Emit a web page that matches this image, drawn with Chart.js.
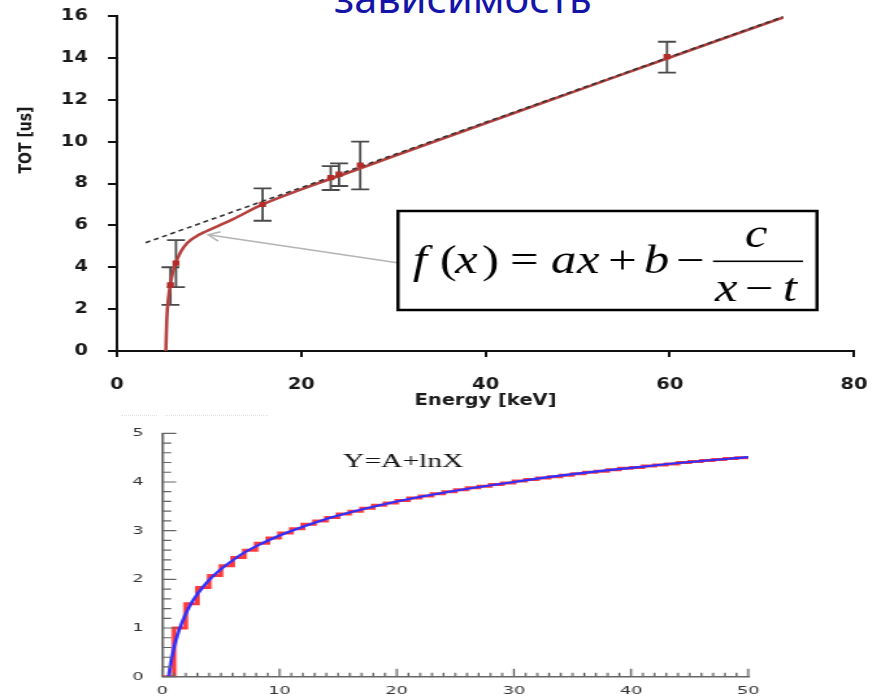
<!DOCTYPE html>
<html><head><meta charset="utf-8">
<script src="https://cdn.jsdelivr.net/npm/chart.js@4.4.1/dist/chart.umd.min.js"></script>
<style>
html,body{margin:0;padding:0;background:#fff;width:881px;height:697px;overflow:hidden;position:relative;}
#title{position:absolute;left:334px;top:-23px;font-family:'Noto Sans';font-size:41.5px;line-height:40px;color:#1414a8;white-space:nowrap;}
.wrap{position:absolute;left:0;transform-origin:0 0;}
.dots{position:absolute;top:415px;height:0;border-top:1px dotted #e2e2e2;}
</style></head><body>
<div id="title">зависимость</div>
<div class="wrap" id="w1"><canvas id="c1"></canvas></div>
<div class="wrap" id="w2"><canvas id="c2"></canvas></div>
<div class="dots" style="left:121px;width:36px"></div>
<div class="dots" style="left:165px;width:103px"></div>
<script>
// ---------- upper chart data ----------
const energy   = [5.8, 6.4, 15.8, 23.2, 24.1, 26.4, 59.7];
const tot      = [3.15, 4.2, 7.0, 8.28, 8.44, 8.88, 14.06];
const errLow   = [2.2, 3.05, 6.22, 7.69, 7.88, 7.72, 13.3];
const errHigh  = [4.0, 5.3, 7.77, 8.83, 8.96, 10.0, 14.77];
const fitX     = [5.3, 5.4, 5.6, 5.8, 6.1, 6.5, 7.0, 7.6, 8.5, 9.7, 11, 12.6, 15.8, 20, 25, 30, 40, 50, 60, 72.3];
const fitY     = [0, 1.5, 2.6, 3.2, 3.85, 4.35, 4.8, 5.15, 5.45, 5.72, 5.98, 6.3, 7.0, 7.72, 8.5, 9.3, 10.88, 12.45, 14.02, 15.93];
const asymX    = [3.1, 72.3];
const asymY    = [5.17, 15.96];
const xTicks1  = [0, 20, 40, 60, 80];
const yTicks1  = [0, 2, 4, 6, 8, 10, 12, 14, 16];
const arrowTip = [9.9, 5.55];

// ---------- lower chart data ----------
const binEdge  = [0,1,2,3,4,5,6,7,8,9,10,11,12,13,14,15,16,17,18,19,20,21,22,23,24,25,26,27,28,29,30,31,32,33,34,35,36,37,38,39,40,41,42,43,44,45,46,47,48,49,50];
const binValue = [0,1.0,1.5,1.83,2.08,2.28,2.45,2.6,2.74,2.85,2.95,3.04,3.13,3.2,3.27,3.34,3.4,3.46,3.52,3.57,3.62,3.67,3.71,3.76,3.8,3.84,3.88,3.91,3.95,3.98,4.02,4.05,4.08,4.11,4.14,4.17,4.2,4.22,4.25,4.28,4.3,4.33,4.35,4.37,4.4,4.42,4.44,4.46,4.48,4.5,4.5];
const curveX   = [0.55,0.6,0.7,0.8,1,1.25,1.5,2,2.5,3,4,5,6,7,8,10,12,15,20,25,30,35,40,45,50];
const curveY   = [0,0.09,0.24,0.38,0.6,0.82,1.0,1.29,1.52,1.7,1.99,2.21,2.39,2.55,2.68,2.9,3.08,3.31,3.6,3.82,4.0,4.16,4.29,4.41,4.51];
const xTicks2  = [0, 10, 20, 30, 40, 50];
const yTicks2  = [0, 1, 2, 3, 4, 5];

Chart.defaults.font.family = 'DejaVu Sans';

const W1 = 678, S1 = 881 / W1, H1 = 410;
const W2 = 551, S2 = 881 / W2, H2 = 287;
const w1 = document.getElementById('w1'), w2 = document.getElementById('w2');
w1.style.cssText = `top:0;width:${W1}px;height:${H1}px;transform:scaleX(${S1});`;
w2.style.cssText = `top:410px;width:${W2}px;height:${H2}px;transform:scaleX(${S2});`;
const c1 = document.getElementById('c1'), c2 = document.getElementById('c2');
c1.width = W1; c1.height = H1; c2.width = W2; c2.height = H2;

const pts = (xs, ys) => xs.map((x, i) => ({x, y: ys[i]}));
const noPad = s => { s.paddingLeft = 0; s.paddingRight = 0; s.paddingTop = 0; s.paddingBottom = 0; };

const errorBars = {
  id: 'errorBars',
  beforeDatasetsDraw(chart) {
    const {ctx, scales: {x, y}} = chart;
    ctx.save();
    ctx.strokeStyle = '#4a4a4a'; ctx.lineWidth = 1.8;
    const hw = 9 / S1;
    energy.forEach((e, i) => {
      const px = x.getPixelForValue(e);
      const yl = y.getPixelForValue(errLow[i]), yh = y.getPixelForValue(errHigh[i]);
      ctx.beginPath();
      ctx.moveTo(px, yl); ctx.lineTo(px, yh);
      ctx.moveTo(px - hw, yl); ctx.lineTo(px + hw, yl);
      ctx.moveTo(px - hw, yh); ctx.lineTo(px + hw, yh);
      ctx.stroke();
    });
    ctx.restore();
  }
};

const upperDeco = {
  id: 'upperDeco',
  afterDraw(chart) {
    const {ctx, scales: {x, y}} = chart;
    // y axis title
    ctx.save();
    ctx.translate(26 / S1, 140);
    ctx.rotate(-Math.PI / 2);
    ctx.font = 'bold 14px "DejaVu Sans"';
    ctx.fillStyle = '#1a1a1a'; ctx.textAlign = 'center'; ctx.textBaseline = 'middle';
    ctx.fillText('TOT [us]', 0, 0);
    ctx.restore();
    // arrow
    const tx = x.getPixelForValue(arrowTip[0]), ty = y.getPixelForValue(arrowTip[1]);
    const sx = 399 / S1, sy = 263;
    ctx.save();
    ctx.strokeStyle = '#b4b4b4'; ctx.lineWidth = 1.5;
    ctx.beginPath(); ctx.moveTo(sx, sy); ctx.lineTo(tx, ty); ctx.stroke();
    const ang = Math.atan2(sy - ty, sx - tx);
    ctx.beginPath();
    ctx.moveTo(tx + 10 * Math.cos(ang + 0.5), ty + 10 * Math.sin(ang + 0.5));
    ctx.lineTo(tx, ty);
    ctx.lineTo(tx + 10 * Math.cos(ang - 0.5), ty + 10 * Math.sin(ang - 0.5));
    ctx.stroke();
    ctx.restore();
    // formula box
    ctx.save();
    ctx.fillStyle = '#fff';
    ctx.fillRect(398 / S1, 211, (817 - 398) / S1, 99);
    ctx.strokeStyle = '#000'; ctx.lineWidth = 2.5;
    ctx.strokeRect(398 / S1, 211, (817 - 398) / S1, 99);
    ctx.fillStyle = '#000'; ctx.textBaseline = 'alphabetic'; ctx.textAlign = 'left';
    const it = 'italic 39px "Liberation Serif"', rm = '39px "Liberation Serif"';
    const parts = [
      ['f', 413, 273, it], ['(', 440, 273, rm], ['x', 455, 273, it], [')', 482, 273, rm],
      ['=', 510, 273, rm], ['a', 551, 273, it], ['x', 577, 273, it], ['+', 608, 273, rm],
      ['b', 644, 273, it], ['\u2212', 676, 273, rm],
      ['c', 745, 247, it], ['x', 715, 301, it], ['\u2212', 745, 301, rm], ['t', 783, 301, it]
    ];
    parts.forEach(([t, px, py, f]) => { ctx.font = f; ctx.fillText(t, px / S1, py); });
    ctx.fillRect(713 / S1, 260.5, (803 - 713) / S1, 1.6);
    ctx.restore();
  }
};

new Chart(c1, {
  type: 'scatter',
  data: {
    datasets: [
      {label: 'data', data: pts(energy, tot), pointStyle: 'rect', pointRadius: 3.8,
       backgroundColor: '#b22c2a', borderColor: '#b22c2a', borderWidth: 0, showLine: false, order: 0},
      {label: 'asymptote', type: 'line', data: pts(asymX, asymY), borderColor: '#333',
       borderDash: [4, 3], borderWidth: 1.6, pointRadius: 0, order: 1},
      {label: 'fit', type: 'line', data: pts(fitX, fitY), borderColor: '#b5413f', borderWidth: 2.6,
       pointRadius: 0, cubicInterpolationMode: 'monotone', order: 2}
    ]
  },
  options: {
    responsive: false, animation: false, devicePixelRatio: 1,
    layout: {padding: {left: 0, top: 16, right: (881 - 854) / S1, bottom: 0}},
    plugins: {legend: {display: false}, tooltip: {enabled: false}},
    scales: {
      x: {
        type: 'linear', min: 0, max: 80,
        afterBuildTicks: s => { s.ticks = xTicks1.map(v => ({value: v})); },
        ticks: {font: {size: 15, weight: 'bold'}, color: '#1a1a1a', padding: 19, maxRotation: 0},
        grid: {drawOnChartArea: false, tickLength: 6, color: '#111', lineWidth: 2},
        border: {color: '#111', width: 2},
        title: {display: true, text: 'Energy [keV]', font: {size: 15, weight: 'bold'}, color: '#1a1a1a', padding: 0},
        afterFit: s => { s.height = 59; noPad(s); }
      },
      y: {
        type: 'linear', min: 0, max: 16,
        afterBuildTicks: s => { s.ticks = yTicks1.map(v => ({value: v})); },
        ticks: {font: {size: 15, weight: 'bold'}, color: '#1a1a1a', padding: 15.3},
        grid: {drawOnChartArea: false, tickLength: 7, color: '#111', lineWidth: 2},
        border: {color: '#111', width: 2},
        afterFit: s => { s.width = 117 / S1; noPad(s); }
      }
    }
  },
  plugins: [errorBars, upperDeco]
});

const lowerDeco = {
  id: 'lowerDeco',
  afterDraw(chart) {
    const {ctx, scales: {x, y}, chartArea: a} = chart;
    ctx.save();
    ctx.strokeStyle = '#666'; ctx.lineWidth = 1.2;
    ctx.beginPath();
    for (let i = 0; i <= 25; i++) {
      const py = y.getPixelForValue(i * 0.2);
      const len = (i % 5 === 0 ? 14 : 9) / S2;
      ctx.moveTo(a.left, py); ctx.lineTo(a.left + len, py);
    }
    for (let i = 0; i <= 50; i++) {
      const px = x.getPixelForValue(i);
      const len = i % 10 === 0 ? 8 : 4;
      ctx.moveTo(px, a.bottom); ctx.lineTo(px, a.bottom - len);
    }
    ctx.stroke();
    ctx.font = '18.5px "Liberation Serif"'; ctx.fillStyle = '#111';
    ctx.textAlign = 'left'; ctx.textBaseline = 'alphabetic';
    ctx.fillText('Y=A+lnX', 343 / S2, 467 - 410);
    ctx.restore();
  }
};

new Chart(c2, {
  type: 'scatter',
  data: {
    datasets: [
      {label: 'fit', type: 'line', data: pts(curveX, curveY), borderColor: '#2f2fff', borderWidth: 2.2,
       pointRadius: 0, cubicInterpolationMode: 'monotone', order: 0},
      {label: 'histogram', type: 'line', data: pts(binEdge, binValue), stepped: 'before',
       borderColor: '#ff3a3a', borderWidth: 3, pointRadius: 0, order: 1}
    ]
  },
  options: {
    responsive: false, animation: false, devicePixelRatio: 1,
    layout: {padding: {left: 0, top: 433.3 - 410, right: (881 - 748.3) / S2, bottom: 0}},
    plugins: {legend: {display: false}, tooltip: {enabled: false}},
    scales: {
      x: {
        type: 'linear', min: 0, max: 50,
        afterBuildTicks: s => { s.ticks = xTicks2.map(v => ({value: v})); },
        ticks: {font: {size: 11}, color: '#333', padding: 8, maxRotation: 0},
        grid: {drawOnChartArea: false, drawTicks: false},
        border: {color: '#666', width: 1.5},
        afterFit: s => { s.height = 697 - 676.7; noPad(s); }
      },
      y: {
        type: 'linear', min: 0, max: 5,
        afterBuildTicks: s => { s.ticks = yTicks2.map(v => ({value: v})); },
        ticks: {font: {size: 11}, color: '#333', padding: 11.8},
        grid: {drawOnChartArea: false, drawTicks: false},
        border: {color: '#666', width: 1.5},
        afterFit: s => { s.width = 162.3 / S2; noPad(s); }
      }
    }
  },
  plugins: [lowerDeco]
});
</script>
</body></html>
